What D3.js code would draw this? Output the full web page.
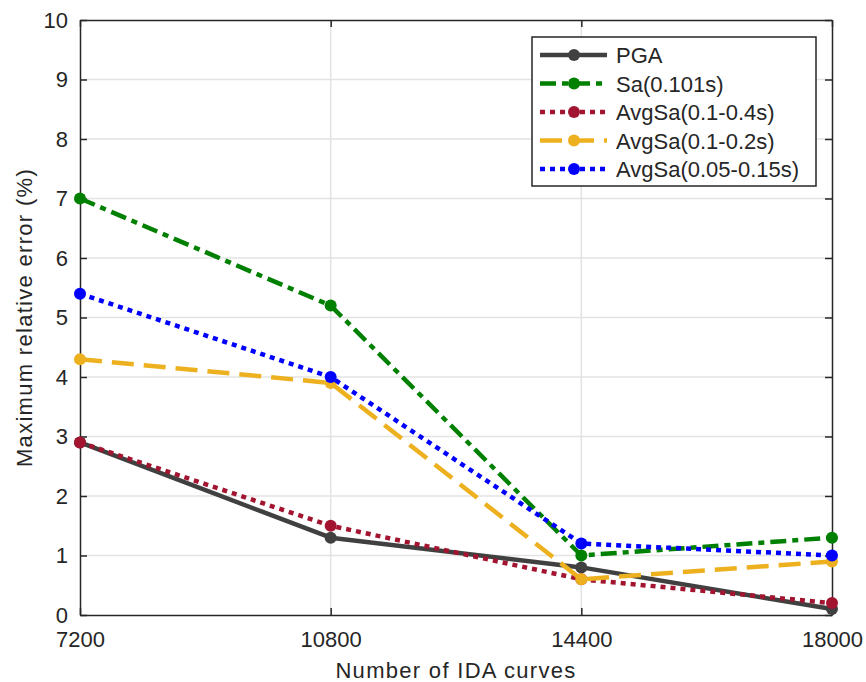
<!DOCTYPE html>
<html><head><meta charset="utf-8">
<script src="https://cdn.jsdelivr.net/npm/d3@7"></script>
<style>body{margin:0;background:#fff}svg{display:block}text{font-family:"Liberation Sans",Arial,sans-serif;fill:#262626}</style>
</head><body><svg id="c" width="866" height="682"></svg>
<script>
const categories = [7200, 10800, 14400, 18000];
const yTicks = [0,1,2,3,4,5,6,7,8,9,10];
const seriesNames = ["PGA","Sa(0.101s)","AvgSa(0.1-0.4s)","AvgSa(0.1-0.2s)","AvgSa(0.05-0.15s)"];
const pga = [2.9, 1.3, 0.8, 0.1];
const sa101 = [7.0, 5.2, 1.0, 1.3];
const avg0104 = [2.9, 1.5, 0.6, 0.2];
const avg0102 = [4.3, 3.9, 0.6, 0.9];
const avg005015 = [5.4, 4.0, 1.2, 1.0];
const seriesValues = [pga, sa101, avg0104, avg0102, avg005015];
const colors = ["#404040","#008000","#A2142F","#EDB120","#0000FF"];
const dashes = [null, "16,6,6,6", "5,5", "22,10", "5,5"];

const svg = d3.select("#c");
const L=80,R=832,T=20,B=615;
const FS = "22px";
const x = d3.scaleLinear().domain([7200,18000]).range([L,R]);
const y = d3.scaleLinear().domain([0,10]).range([B,T]);

// grid
svg.append("g").selectAll("line").data(yTicks.slice(1,-1)).join("line")
  .attr("x1",L).attr("x2",R).attr("y1",d=>y(d)).attr("y2",d=>y(d))
  .attr("stroke","#e3e3e3").attr("stroke-width",1.5);
svg.append("g").selectAll("line").data(categories.slice(1,-1)).join("line")
  .attr("y1",T).attr("y2",B).attr("x1",d=>x(d)).attr("x2",d=>x(d))
  .attr("stroke","#e3e3e3").attr("stroke-width",1.5);

// axes
const ax = svg.append("g").attr("transform",`translate(0,${B})`)
  .call(d3.axisBottom(x).tickValues(categories).tickFormat(d3.format("d")).tickSizeInner(-7).tickSizeOuter(0).tickPadding(16));
const ay = svg.append("g").attr("transform",`translate(${L},0)`)
  .call(d3.axisLeft(y).tickValues(yTicks).tickSizeInner(-7).tickSizeOuter(0).tickPadding(12));
const ay2 = svg.append("g").attr("transform",`translate(${R},0)`)
  .call(d3.axisRight(y).tickValues(yTicks).tickSizeInner(-7).tickSizeOuter(0).tickFormat(""));
const ax2 = svg.append("g").attr("transform",`translate(0,${T})`)
  .call(d3.axisTop(x).tickValues(categories).tickSizeInner(-7).tickSizeOuter(0).tickFormat(""));
[ax,ay,ay2,ax2].forEach(g=>{
  g.selectAll("path,line").attr("stroke","#262626").attr("stroke-width",1.5);
  g.selectAll("text").style("font-size",FS).attr("fill","#262626");
});

// lines
const line = d3.line().x((d,i)=>x(categories[i])).y(d=>y(d));
seriesValues.forEach((vals,k)=>{
  const g = svg.append("g");
  g.append("path").datum(vals).attr("d",line).attr("fill","none")
    .attr("stroke",colors[k]).attr("stroke-width",4.5)
    .attr("stroke-dasharray",dashes[k]).attr("stroke-linejoin","round");
  g.selectAll("circle").data(vals).join("circle")
    .attr("cx",(d,i)=>x(categories[i])).attr("cy",d=>y(d)).attr("r",6)
    .attr("fill",colors[k]);
});

// labels
svg.append("text").attr("x",(L+R)/2).attr("y",678).attr("text-anchor","middle")
  .style("font-size",FS).style("letter-spacing","1.3px").text("Number of IDA curves");
svg.append("text").attr("transform",`translate(32,${(T+B)/2}) rotate(-90)`).attr("text-anchor","middle")
  .style("font-size",FS).style("letter-spacing","1.3px").text("Maximum relative error (%)");

// legend
const lg = svg.append("g");
lg.append("rect").attr("x",532).attr("y",37).attr("width",284).attr("height",149)
  .attr("fill","#fff").attr("stroke","#262626").attr("stroke-width",1.5);
seriesNames.forEach((n,k)=>{
  const yy = 55 + k*28.5;
  lg.append("line").attr("x1",540).attr("x2",607).attr("y1",yy).attr("y2",yy)
    .attr("stroke",colors[k]).attr("stroke-width",4.5).attr("stroke-dasharray",dashes[k]);
  lg.append("circle").attr("cx",574).attr("cy",yy).attr("r",6).attr("fill",colors[k]);
  lg.append("text").attr("x",616).attr("y",yy+8).style("font-size",FS).text(n);
});
</script></body></html>
